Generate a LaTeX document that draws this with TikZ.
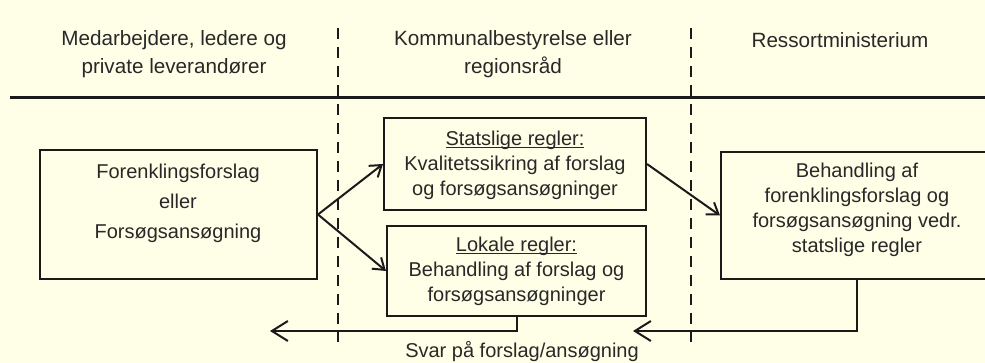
\documentclass[tikz,border=0pt]{standalone}
\usepackage{fontspec}
\setmainfont{Liberation Sans}
\usetikzlibrary{arrows.meta}
\definecolor{bg}{RGB}{255,255,232}
\definecolor{ink}{RGB}{26,26,26}
\definecolor{txt}{RGB}{40,40,40}
\newcommand{\myul}[1]{\setbox0\hbox{#1}\rlap{\rule[-2.2pt]{\wd0}{0.9pt}}\box0}
\begin{document}
\begin{tikzpicture}[x=0.75pt,y=-0.75pt,
  boxnode/.style={draw=ink,line width=1.5pt,inner sep=0pt},
  lbl/.style={text=txt,align=center,font=\fontsize{15}{18.75}\selectfont,inner sep=0pt},
  hdr/.style={text=txt,align=center,font=\fontsize{15.5}{21}\selectfont,inner sep=0pt},
  conn/.style={draw=ink,line width=1.5pt,-{Straight Barb[length=8pt,width=11pt]}},
  back/.style={draw=ink,line width=1.5pt,-{Straight Barb[length=12pt,width=15pt]}},
  sep/.style={draw=ink,line width=1.9pt,dash pattern=on 8.25pt off 6pt},
  rule/.style={draw=ink,line width=2.25pt}]
\clip (0,0) rectangle (985,363);
\fill[bg] (0,0) rectangle (985,363);

% header
\node[hdr] (h1) at (174,54) {Medarbejdere,  ledere og\\private leverandører};
\node[hdr] (h2) at (513,54) {Kommunalbestyrelse  eller\\regionsråd};
\node[hdr] (h3) at (840,40) {Ressortministerium};

\coordinate (hl) at (10,97.5);
\coordinate (hr) at (985,97.5);
\draw[rule] (hl) -- (hr);

\coordinate (d1t) at (338,28);
\coordinate (d1b) at (338,342);
\coordinate (d2t) at (691,28);
\coordinate (d2b) at (691,342);
\draw[sep] (d1t) -- (d1b);
\draw[sep] (d2t) -- (d2b);

% boxes
\node[boxnode,minimum width=207.75pt,minimum height=96.75pt] (b1) at (178.5,214.5) {};
\node[boxnode,minimum width=196.5pt,minimum height=69pt] (b2) at (515,164) {};
\node[boxnode,minimum width=194.25pt,minimum height=67.5pt] (b3) at (516.5,271) {};
\node[boxnode,minimum width=204pt,minimum height=95.25pt] (b4) at (857,215.5) {};

\node[lbl,font=\fontsize{15}{22.5}\selectfont] (t1) at (178,203) {Forenklingsforslag\\eller\\Forsøgsansøgning};
\node[lbl] (t2) at (515,165) {\myul{Statslige regler:}\\Kvalitetssikring af forslag\\og forsøgsansøgninger};
\node[lbl] (t3) at (516.5,271) {\myul{Lokale regler:}\\Behandling af forslag og\\forsøgsansøgninger};
\node[lbl] (t4) at (857,209.5) {Behandling af\\forenklingsforslag og\\forsøgsansøgning vedr.\\statslige regler};

% connectors
\draw[conn] (b1.east) -- (b2.west);
\draw[conn] (b1.east) -- (b3.west);
\draw[conn] (b2.east) -- (b4.west);

\coordinate (r1) at (270,331);
\coordinate (r2) at (633,331);
\draw[back] (b3.south) |- (r1);
\draw[back] (b4.south) |- (r2);

\node[lbl] (svar) at (522,352) {Svar på forslag/ansøgning};
\end{tikzpicture}
\end{document}
